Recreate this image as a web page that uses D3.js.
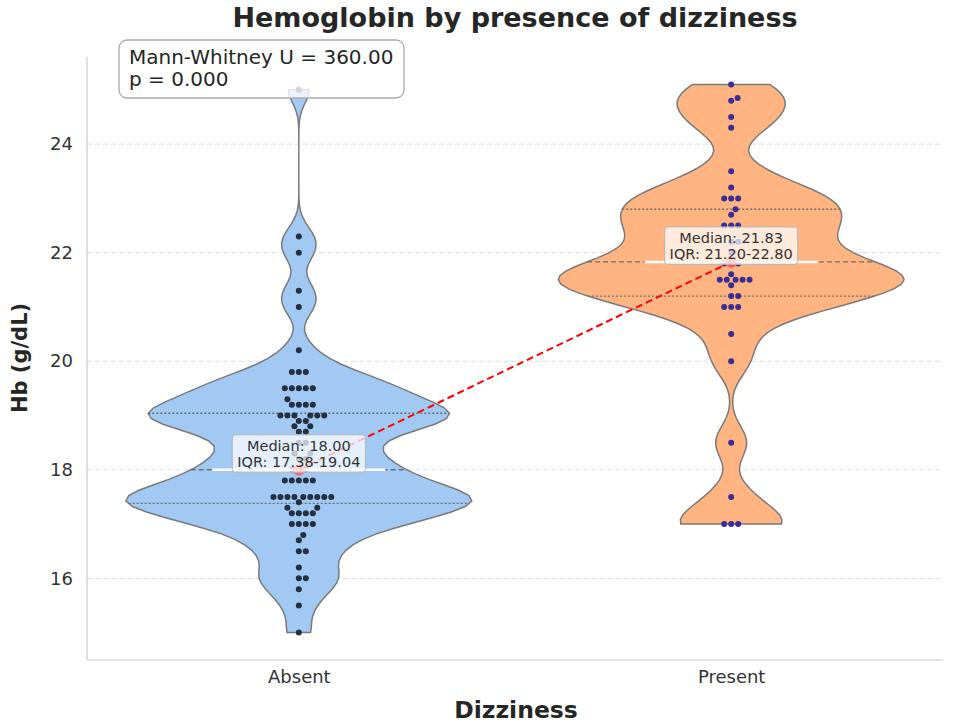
<!DOCTYPE html>
<html>
<head>
<meta charset="utf-8">
<style>
  body { margin: 0; background: #fff; }
  svg text { font-family: "DejaVu Sans", sans-serif; }
</style>
<script src="https://cdn.jsdelivr.net/npm/d3@7"></script>
</head>
<body>
<svg width="954" height="726"></svg>
<script>
// groups on the x axis
var groups = ["Absent", "Present"];

// Hb values (g/dL)
var absentHb = [25.0, 22.3, 22.0, 21.3, 21.0, 20.2,
  19.8, 19.8, 19.8, 19.5, 19.5, 19.5, 19.5, 19.5, 19.3,
  19.2, 19.2, 19.2, 19.2, 19.0, 19.0, 19.0, 19.0, 19.0, 19.0,
  18.9, 18.9, 18.8, 18.8, 18.7, 18.7, 18.5, 18.5, 18.3, 18.3, 18.2, 18.2,
  18.0, 18.0, 18.0, 17.8, 17.8, 17.8, 17.8, 17.8,
  17.5, 17.5, 17.5, 17.5, 17.5, 17.5, 17.5, 17.5, 17.5, 17.4, 17.3, 17.3,
  17.2, 17.2, 17.2, 17.2, 17.0, 17.0, 17.0, 17.0,
  16.8, 16.7, 16.5, 16.5, 16.2, 16.0, 16.0, 15.8, 15.5, 15.0];
var presentHb = [25.1, 24.85, 24.8, 24.5, 24.3, 23.5, 23.2, 23.0, 23.0, 23.0,
  22.8, 22.7, 22.5, 22.5, 22.5, 22.2, 22.2, 22.0, 21.8, 21.8, 21.8, 21.6,
  21.5, 21.5, 21.5, 21.5, 21.5, 21.4, 21.2, 21.2, 21.0, 21.0, 21.0,
  20.5, 20.0, 18.5, 17.5, 17.0, 17.0, 17.0];

// summary numbers printed on the chart
var medians = [18.00, 21.83];
var q1s = [17.38, 21.20];
var q3s = [19.04, 22.80];
var yTicks = [16, 18, 20, 22, 24];
var mwU = 360.00, mwP = 0.000;

var fills = ["#a1c9f4", "#ffb482"];
var dotColors = ["#24303f", "#3a2d96"];

var svg = d3.select("svg");
var plotLeft = 87, plotRight = 943, plotTop = 57, plotBottom = 660;

var x = d3.scalePoint().domain(groups).range([plotLeft, plotRight]).padding(0.49);
var y = d3.scaleLinear().domain([14.495, 25.605]).range([plotBottom, plotTop]);
var halfW = 0.4 * x.step();

// grid
svg.append("g").selectAll("line").data(yTicks).enter().append("line")
  .attr("x1", plotLeft).attr("x2", plotRight)
  .attr("y1", function(d){ return y(d); }).attr("y2", function(d){ return y(d); })
  .attr("stroke", "#dcdcdc").attr("stroke-width", 1).attr("stroke-dasharray", "5,3");

// axes
var yAxis = svg.append("g").attr("transform", "translate(" + plotLeft + ",0)")
  .call(d3.axisLeft(y).tickValues(yTicks).tickSize(0).tickPadding(14));
yAxis.select(".domain").remove();
yAxis.selectAll("text").attr("font-size", "18px").attr("fill", "#333");

var xAxis = svg.append("g").attr("transform", "translate(0," + plotBottom + ")")
  .call(d3.axisBottom(x).tickSize(0).tickPadding(10));
xAxis.select(".domain").remove();
xAxis.selectAll("text").attr("font-size", "18px").attr("fill", "#333");

svg.append("line").attr("x1", plotLeft).attr("x2", plotLeft).attr("y1", plotTop).attr("y2", plotBottom)
  .attr("stroke", "#cccccc").attr("stroke-width", 1.2);
svg.append("line").attr("x1", plotLeft).attr("x2", plotRight).attr("y1", plotBottom).attr("y2", plotBottom)
  .attr("stroke", "#cccccc").attr("stroke-width", 1.2);

// kde
function kde(vals) {
  var sd = d3.deviation(vals);
  var bw = 0.15 * sd;
  var lo = d3.min(vals), hi = d3.max(vals);
  var grid = d3.range(100).map(function(i){ return lo + (hi - lo) * i / 99; });
  var dens = grid.map(function(g){
    return { v: g, d: d3.sum(vals, function(v){ var z = (g - v) / bw; return Math.exp(-0.5 * z * z); }) };
  });
  var mx = d3.max(dens, function(p){ return p.d; });
  dens.forEach(function(p){ p.w = p.d / mx * halfW; });
  return dens;
}
function widthAt(dens, v) {
  for (var i = 1; i < dens.length; i++) {
    if (dens[i].v >= v) {
      var a = dens[i-1], b = dens[i], t = (v - a.v) / (b.v - a.v);
      return a.w + (b.w - a.w) * t;
    }
  }
  return dens[dens.length-1].w;
}

var allData = [absentHb, presentHb];

allData.forEach(function(vals, gi) {
  var cx = x(groups[gi]);
  var dens = kde(vals);
  var area = d3.area()
    .y(function(p){ return y(p.v); })
    .x0(function(p){ return cx - p.w; })
    .x1(function(p){ return cx + p.w; });
  svg.append("path").datum(dens).attr("d", area)
    .attr("fill", fills[gi]).attr("stroke", "#7a7a7a").attr("stroke-width", 1.5);

  // inner quartile lines
  [[q1s[gi], "2,2"], [medians[gi], "5,3"], [q3s[gi], "2,2"]].forEach(function(q) {
    var w = widthAt(dens, q[0]);
    svg.append("line").attr("x1", cx - w).attr("x2", cx + w)
      .attr("y1", y(q[0])).attr("y2", y(q[0]))
      .attr("stroke", "#6e6e6e").attr("stroke-width", 1.4).attr("stroke-dasharray", q[1]);
  });
});

// swarm
function swarm(vals, cx, d) {
  var pts = vals.map(function(v){ return { v: v, py: y(v) }; })
    .sort(function(a, b){ return a.v - b.v; });
  var placed = [];
  pts.forEach(function(p) {
    var near = placed.filter(function(q){ return Math.abs(q.py - p.py) < d; });
    var cands = [0];
    near.forEach(function(q) {
      var dx = Math.sqrt(d * d - (q.py - p.py) * (q.py - p.py));
      cands.push(q.dx + dx, q.dx - dx);
    });
    cands.sort(function(a, b){ return Math.abs(a) - Math.abs(b); });
    for (var i = 0; i < cands.length; i++) {
      var c = cands[i];
      var ok = near.every(function(q){
        return (q.dx - c) * (q.dx - c) + (q.py - p.py) * (q.py - p.py) >= d * d - 0.01;
      });
      if (ok) { p.dx = c; break; }
    }
    placed.push(p);
  });
  return placed.map(function(p){ return { x: cx + p.dx, y: p.py }; });
}

allData.forEach(function(vals, gi) {
  var pts = swarm(vals, x(groups[gi]), 7);
  svg.append("g").selectAll("circle").data(pts).enter().append("circle")
    .attr("cx", function(p){ return p.x; }).attr("cy", function(p){ return p.y; })
    .attr("r", 3).attr("fill", dotColors[gi]);
});

// white median bars
groups.forEach(function(g, gi) {
  svg.append("line").attr("x1", x(g) - 0.2 * x.step()).attr("x2", x(g) + 0.2 * x.step())
    .attr("y1", y(medians[gi])).attr("y2", y(medians[gi]))
    .attr("stroke", "#fff").attr("stroke-width", 2.5);
});

// red dashed line joining medians
svg.append("line")
  .attr("x1", x(groups[0])).attr("y1", y(medians[0]))
  .attr("x2", x(groups[1])).attr("y2", y(medians[1]))
  .attr("stroke", "red").attr("stroke-width", 2).attr("stroke-dasharray", "7,4");
svg.append("g").selectAll("circle").data(groups).enter().append("circle")
  .attr("cx", function(g){ return x(g); })
  .attr("cy", function(g, i){ return y(medians[i]); })
  .attr("r", 6).attr("fill", "#ff5a5a").attr("opacity", 0.8);

// median labels
groups.forEach(function(g, gi) {
  var lg = svg.append("g");
  var t = lg.append("text").attr("text-anchor", "middle").attr("font-size", "14.5px").attr("fill", "#333");
  t.append("tspan").attr("x", x(g)).attr("y", y(medians[gi]) - 19).text("Median: " + medians[gi].toFixed(2));
  t.append("tspan").attr("x", x(g)).attr("y", y(medians[gi]) - 2.5)
    .text("IQR: " + q1s[gi].toFixed(2) + "-" + q3s[gi].toFixed(2));
  var bb = t.node().getBBox();
  lg.insert("rect", "text")
    .attr("x", bb.x - 5).attr("y", bb.y - 3).attr("width", bb.width + 10).attr("height", bb.height + 5)
    .attr("rx", 3).attr("fill", "#fff").attr("fill-opacity", 0.72)
    .attr("stroke", "#b5b5b5").attr("stroke-width", 1);
});

// test box
var sb = svg.append("g");
var st = sb.append("text").attr("font-size", "20px").attr("fill", "#262626");
st.append("tspan").attr("x", 129).attr("y", 64).text("Mann-Whitney U = " + mwU.toFixed(2));
st.append("tspan").attr("x", 129).attr("y", 86).text("p = " + mwP.toFixed(3));
sb.insert("rect", "text").attr("x", 119).attr("y", 40).attr("width", 285).attr("height", 58)
  .attr("rx", 8).attr("fill", "#fff").attr("fill-opacity", 0.8)
  .attr("stroke", "#aaaaaa").attr("stroke-width", 1.3);

// titles
svg.append("text").attr("x", 515).attr("y", 27).attr("text-anchor", "middle")
  .attr("font-size", "27px").attr("font-weight", "bold").attr("fill", "#262626")
  .text("Hemoglobin by presence of dizziness");
svg.append("text").attr("x", 516).attr("y", 718).attr("text-anchor", "middle")
  .attr("font-size", "23.5px").attr("font-weight", "bold").attr("fill", "#262626")
  .text("Dizziness");
svg.append("text").attr("transform", "translate(27,358) rotate(-90)").attr("text-anchor", "middle")
  .attr("font-size", "21px").attr("font-weight", "bold").attr("fill", "#262626")
  .text("Hb (g/dL)");
</script>
</body>
</html>
